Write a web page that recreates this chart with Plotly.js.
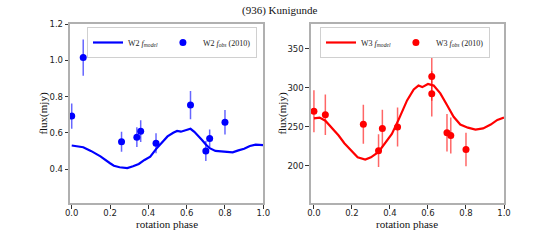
<!DOCTYPE html>
<html>
<head>
<meta charset="utf-8">
<script src="https://cdn.plot.ly/plotly-3.0.1.min.js"></script>
<style>html,body{margin:0;padding:0;background:#fff;}#chart{width:560px;height:240px;}</style>
</head>
<body>
<div id="chart"></div>
<script>
// W2 model light curve
const w2ModelPhase = [0.00,0.03,0.06,0.10,0.15,0.20,0.22,0.25,0.27,0.29,0.32,0.35,0.38,0.41,0.44,0.47,0.50,0.53,0.55,0.57,0.60,0.62,0.64,0.66,0.68,0.70,0.72,0.75,0.78,0.81,0.84,0.87,0.90,0.93,0.96,1.00];
const w2ModelFlux  = [0.530,0.527,0.520,0.500,0.470,0.432,0.418,0.410,0.408,0.405,0.415,0.428,0.450,0.468,0.510,0.548,0.580,0.600,0.610,0.606,0.615,0.622,0.605,0.585,0.560,0.535,0.515,0.500,0.497,0.492,0.492,0.503,0.512,0.527,0.535,0.532];
// W2 observations (2010)
const w2ObsPhase = [0.00,0.06,0.26,0.34,0.36,0.44,0.62,0.70,0.72,0.80];
const w2ObsFlux  = [0.692,1.015,0.550,0.576,0.609,0.542,0.753,0.500,0.568,0.658];
const w2ObsErr   = [0.070,0.100,0.055,0.055,0.060,0.055,0.078,0.055,0.050,0.067];

// W3 model light curve
const w3ModelPhase = [0.00,0.03,0.06,0.09,0.13,0.16,0.20,0.23,0.27,0.30,0.34,0.375,0.41,0.445,0.49,0.525,0.55,0.57,0.60,0.63,0.665,0.70,0.735,0.77,0.81,0.85,0.89,0.93,0.965,1.00];
const w3ModelFlux  = [261,262,258,250,239,229,218,211,208,211,218,229,241,259,284,298,303,301,305,303,293,278,263,253,249,246.5,248,253,259,262];
// W3 observations (2010)
const w3ObsPhase = [0.00,0.06,0.26,0.34,0.36,0.44,0.62,0.62,0.70,0.72,0.80];
const w3ObsFlux  = [270,265.5,253.5,219.5,248,250,314.5,292.5,242.5,239,221];
const w3ObsErr   = [27,26,25,21,24,25,31,29,24,23,21.5];

const xTicks = [0,0.2,0.4,0.6,0.8,1.0];
const w2Ticks = [0.4,0.6,0.8,1.0,1.2];
const w3Ticks = [200,250,300,350];

const serif = 'Liberation Serif, Times New Roman, DejaVu Serif, serif';
const sans = 'DejaVu Sans, sans-serif';
const blue = '#0000ff', red = '#ff0000';

const traces = [
  {x: w2ModelPhase, y: w2ModelFlux, type:'scatter', mode:'lines', name:'W2 <i>f</i><sub><i>model</i></sub>',
   line:{color:blue, width:2.2}, xaxis:'x', yaxis:'y', legend:'legend'},
  {x: w2ObsPhase, y: w2ObsFlux, type:'scatter', mode:'markers', name:'W2 <i>f</i><sub><i>obs</i></sub> (2010)',
   marker:{color:blue, size:7}, error_y:{type:'data', array:w2ObsErr, visible:true, color:'rgba(0,0,255,0.6)', thickness:1.5, width:0},
   xaxis:'x', yaxis:'y', legend:'legend'},
  {x: w3ModelPhase, y: w3ModelFlux, type:'scatter', mode:'lines', name:'W3 <i>f</i><sub><i>model</i></sub>',
   line:{color:red, width:2.2}, xaxis:'x2', yaxis:'y2', legend:'legend2'},
  {x: w3ObsPhase, y: w3ObsFlux, type:'scatter', mode:'markers', name:'W3 <i>f</i><sub><i>obs</i></sub> (2010)',
   marker:{color:red, size:7}, error_y:{type:'data', array:w3ObsErr, visible:true, color:'rgba(255,0,0,0.6)', thickness:1.5, width:0},
   xaxis:'x2', yaxis:'y2', legend:'legend2'}
];

const axBase = {
  showline:true, linecolor:'#b0b0b0', linewidth:1.8, mirror:true,
  showgrid:false, zeroline:false, ticks:'outside', ticklen:3.5, tickwidth:1, tickcolor:'#333',
  tickfont:{family:sans, size:8.5, color:'#222'}, fixedrange:true
};
const xBase = Object.assign({}, axBase, {ticklabelstandoff:-3});

const legBase = {
  orientation:'h', xanchor:'left', yanchor:'top', y:1-27/240,
  bgcolor:'#ffffff', bordercolor:'#d0d0d0', borderwidth:1,
  font:{family:serif, size:8, color:'#222'}, itemwidth:30, tracegroupgap:0
};

const layout = {
  width:560, height:240, margin:{l:0,r:0,t:0,b:0},
  paper_bgcolor:'#fff', plot_bgcolor:'#fff', showlegend:true,
  xaxis: Object.assign({}, xBase, {domain:[70/560, 263.3/560], range:[-0.009,1.0], tickvals:xTicks, tickformat:'.1f', anchor:'y'}),
  yaxis: Object.assign({}, axBase, {domain:[1-203.3/240, 1-24/240], range:[0.211,1.2], tickvals:w2Ticks, tickformat:'.1f', anchor:'x'}),
  xaxis2: Object.assign({}, xBase, {domain:[310.7/560, 504/560], range:[-0.017,1.0], tickvals:xTicks, tickformat:'.1f', anchor:'y2'}),
  yaxis2: Object.assign({}, axBase, {domain:[1-203.3/240, 1-24/240], range:[152,382], tickvals:w3Ticks, anchor:'x2'}),
  legend: Object.assign({}, legBase, {x:87/560}),
  legend2: Object.assign({}, legBase, {x:320/560}),
  annotations:[
    {text:'(936) Kunigunde', xref:'paper', yref:'paper', x:0.5, y:1-11/240, xanchor:'center', yanchor:'middle', showarrow:false, font:{family:serif, size:11, color:'#111'}},
    {text:'rotation phase', xref:'paper', yref:'paper', x:(70+263.3)/2/560, y:1-224/240, xanchor:'center', yanchor:'middle', showarrow:false, font:{family:serif, size:11, color:'#111'}},
    {text:'rotation phase', xref:'paper', yref:'paper', x:(310.7+504)/2/560, y:1-224/240, xanchor:'center', yanchor:'middle', showarrow:false, font:{family:serif, size:11, color:'#111'}},
    {text:'flux(mjy)', xref:'paper', yref:'paper', x:44/560, y:1-113.6/240, xanchor:'center', yanchor:'middle', textangle:-90, showarrow:false, font:{family:serif, size:11, color:'#111'}},
    {text:'flux(mjy)', xref:'paper', yref:'paper', x:283/560, y:1-113.6/240, xanchor:'center', yanchor:'middle', textangle:-90, showarrow:false, font:{family:serif, size:11, color:'#111'}}
  ]
};

Plotly.newPlot('chart', traces, layout, {staticPlot:true, displayModeBar:false});
</script>
</body>
</html>
